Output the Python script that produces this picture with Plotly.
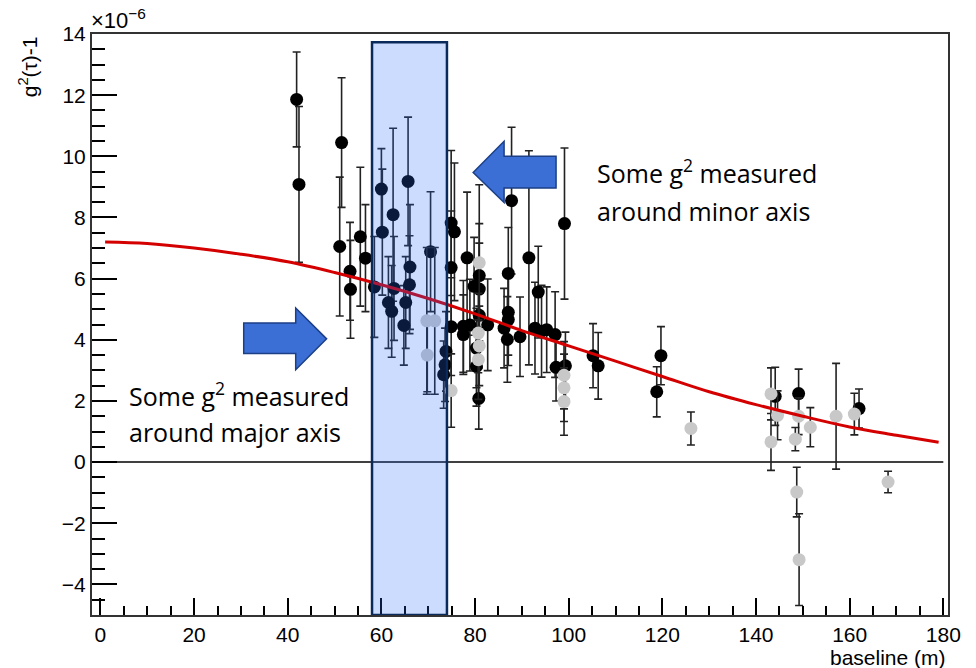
import plotly.graph_objects as go

# ---- data ----
black_x = [41.9, 42.4, 51.5, 51.1, 53.3, 53.4, 55.5, 56.6, 58.5, 60.0, 60.2, 62.5, 65.7, 66.1, 66.0,
           62.7, 61.5, 62.2, 65.2, 64.8, 70.5, 73.8, 73.6, 73.3, 74.9, 75.6, 74.9, 74.9, 77.5, 77.5,
           78.9, 78.3, 79.8, 80.9, 80.9, 80.9, 82.7, 80.3, 80.3, 80.8, 87.1, 87.1, 87.1, 86.2, 86.9,
           87.8, 89.6, 91.5, 93.5, 92.8, 94.2, 95.3, 97.1, 97.3, 99.3, 99.1, 105.2, 106.3, 118.8, 119.7,
           144.1, 149.1, 162.0]
black_y = [11.86, 9.08, 10.45, 7.05, 6.24, 5.65, 7.37, 6.67, 5.73, 8.93, 7.52, 8.09, 9.18, 6.38, 5.80,
           5.68, 5.22, 4.93, 5.22, 4.47, 6.88, 3.62, 3.18, 2.86, 7.82, 7.53, 6.36, 4.43, 4.44, 4.17,
           4.48, 6.68, 5.75, 6.10, 5.66, 4.80, 4.49, 3.73, 3.13, 2.08, 6.17, 4.90, 4.66, 4.38, 4.01,
           8.55, 4.10, 6.68, 5.56, 4.38, 4.28, 4.33, 4.17, 3.10, 3.15, 7.80, 3.48, 3.15, 2.30, 3.48,
           2.15, 2.24, 1.75]
black_err = [1.55, 2.55, 2.12, 2.27, 1.60, 1.60, 2.27, 1.75, 1.65, 1.32, 2.06, 2.83, 2.10, 2.04, 1.60,
             1.70, 1.50, 1.50, 1.50, 1.30, 1.96, 1.30, 1.20, 1.10, 2.37, 2.25, 1.85, 1.60, 1.50, 1.30,
             1.50, 2.15, 1.60, 1.70, 1.50, 1.40, 1.50, 1.30, 1.30, 1.00, 1.50, 1.40, 1.50, 1.30, 1.40,
             2.40, 1.30, 3.50, 1.50, 1.50, 1.50, 1.40, 1.40, 1.10, 1.10, 2.47, 1.05, 1.09, 0.82, 0.95,
             0.95, 0.80, 0.64]

gray_x = [69.7, 71.4, 69.8, 74.9, 80.9, 80.7, 80.9, 80.7, 99.0, 99.0, 99.0, 126.1, 143.2, 144.6,
          143.2, 149.1, 148.4, 151.6, 148.7, 149.2, 157.1, 161.0, 168.2]
gray_y = [4.62, 4.62, 3.50, 2.34, 6.52, 4.22, 3.80, 3.35, 2.84, 2.43, 1.98, 1.10, 2.23, 1.53,
          0.66, 1.50, 0.75, 1.14, -0.98, -3.19, 1.50, 1.57, -0.65]
gray_err = [2.40, 2.40, 1.20, 1.20, 2.55, 1.30, 1.30, 1.30, 1.10, 1.10, 1.10, 0.54, 0.85, 0.80,
            0.93, 0.60, 0.38, 0.64, 0.81, 1.50, 1.73, 0.68, 0.35]

# red fit curve
curve_x = [1, 10, 20, 30, 40, 50, 60, 70, 80, 90, 100, 110, 120, 130, 140, 150, 160, 170, 179]
curve_y = [7.20, 7.15, 7.00, 6.80, 6.55, 6.20, 5.80, 5.35, 4.85, 4.30, 3.80, 3.30, 2.80, 2.30,
           1.88, 1.50, 1.15, 0.88, 0.65]

x_ticks = [0, 20, 40, 60, 80, 100, 120, 140, 160, 180]
y_ticks = [-4, -2, 0, 2, 4, 6, 8, 10, 12, 14]

X_RANGE = [-1.8, 181.0]
Y_RANGE = [-5.0, 14.0]
FONT = "Liberation Sans, Arial, sans-serif"
TXT_FONT = "Open Sans, sans-serif"

fig = go.Figure()

fig.add_trace(go.Scatter(
    x=black_x, y=black_y, mode="markers",
    marker=dict(color="black", size=13),
    error_y=dict(type="data", array=black_err, color="#222222", thickness=1.6, width=4),
    showlegend=False))

fig.add_trace(go.Scatter(
    x=gray_x, y=gray_y, mode="markers",
    marker=dict(color="#c8c8c8", size=13),
    error_y=dict(type="data", array=gray_err, color="#222222", thickness=1.6, width=4),
    showlegend=False))

fig.add_trace(go.Scatter(
    x=curve_x, y=curve_y, mode="lines",
    line=dict(color="#d40000", width=3, shape="spline"),
    showlegend=False))

shapes = []
# zero line
shapes.append(dict(type="line", xref="x", yref="y", x0=0, x1=180, y0=0, y1=0,
                   line=dict(color="black", width=1.5), layer="below"))
# highlighted box
shapes.append(dict(type="rect", xref="x", yref="y", x0=58.0, x1=74.0, y0=Y_RANGE[0], y1=13.73,
                   fillcolor="rgba(42,108,250,0.24)", line=dict(color="#0b2a5c", width=2.5),
                   layer="above"))
# right-pointing arrow
shapes.append(dict(type="path", xref="x", yref="y",
                   path="M 30.6 4.55 L 41.7 4.55 L 41.7 5.04 L 48.3 4.03 L 41.7 3.02 L 41.7 3.55 L 30.6 3.55 Z",
                   fillcolor="#3b6fd6", line=dict(color="#1c3f86", width=1.5), layer="above"))
# left-pointing arrow
shapes.append(dict(type="path", xref="x", yref="y",
                   path="M 97.3 10.0 L 86.2 10.0 L 86.2 10.49 L 79.6 9.47 L 86.2 8.49 L 86.2 8.96 L 97.3 8.96 Z",
                   fillcolor="#3b6fd6", line=dict(color="#1c3f86", width=1.5), layer="above"))

annotations = [
    dict(text="Some g<sup>2</sup> measured", x=105.6, y=9.50, xref="x", yref="y",
         xanchor="left", yanchor="middle", showarrow=False,
         font=dict(family=TXT_FONT, size=25, color="black")),
    dict(text="around minor axis", x=105.6, y=8.22, xref="x", yref="y",
         xanchor="left", yanchor="middle", showarrow=False,
         font=dict(family=TXT_FONT, size=25, color="black")),
    dict(text="Some g<sup>2</sup> measured", x=5.6, y=2.22, xref="x", yref="y",
         xanchor="left", yanchor="middle", showarrow=False,
         font=dict(family=TXT_FONT, size=25, color="black")),
    dict(text="around major axis", x=5.6, y=0.97, xref="x", yref="y",
         xanchor="left", yanchor="middle", showarrow=False,
         font=dict(family=TXT_FONT, size=25, color="black")),
    dict(text="g<sup>2</sup>(τ)-1", x=-0.075, y=1.0, xref="paper", yref="paper",
         xanchor="center", yanchor="top", textangle=-90, showarrow=False,
         font=dict(family=FONT, size=21, color="black")),
    dict(text="×10<sup>−6</sup>", x=-0.003, y=0.998, xref="paper", yref="paper",
         xanchor="left", yanchor="bottom", showarrow=False,
         font=dict(family=FONT, size=22, color="black")),
    dict(text="baseline (m)", x=1.0, y=-0.073, xref="paper", yref="paper",
         xanchor="right", yanchor="middle", showarrow=False,
         font=dict(family=FONT, size=21, color="black")),
]

fig.update_layout(
    width=976, height=668,
    margin=dict(l=92, r=28, t=34, b=53),
    paper_bgcolor="white", plot_bgcolor="white",
    shapes=shapes, annotations=annotations,
    font=dict(family=FONT, size=21, color="black"),
    xaxis=dict(range=X_RANGE, tickmode="array", tickvals=x_ticks,
               ticktext=[str(v) for v in x_ticks],
               ticks="inside", ticklen=17, tickwidth=1.5, tickcolor="black",
               minor=dict(ticks="inside", ticklen=9, dtick=5, tick0=0, tickwidth=1.5, tickcolor="black"),
               showgrid=False, zeroline=False,
               showline=True, mirror=True, linecolor="#333333", linewidth=2,
               tickfont=dict(family=FONT, size=21)),
    yaxis=dict(range=Y_RANGE, tickmode="array", tickvals=y_ticks,
               ticktext=[("−" + str(-v)) if v < 0 else str(v) for v in y_ticks],
               ticks="inside", ticklen=25, tickwidth=1.5, tickcolor="black",
               minor=dict(ticks="inside", ticklen=13, dtick=0.5, tick0=0, tickwidth=1.5, tickcolor="black"),
               showgrid=False, zeroline=False,
               showline=True, mirror=True, linecolor="#333333", linewidth=2,
               tickfont=dict(family=FONT, size=21)),
)

fig.write_html("out.html")
